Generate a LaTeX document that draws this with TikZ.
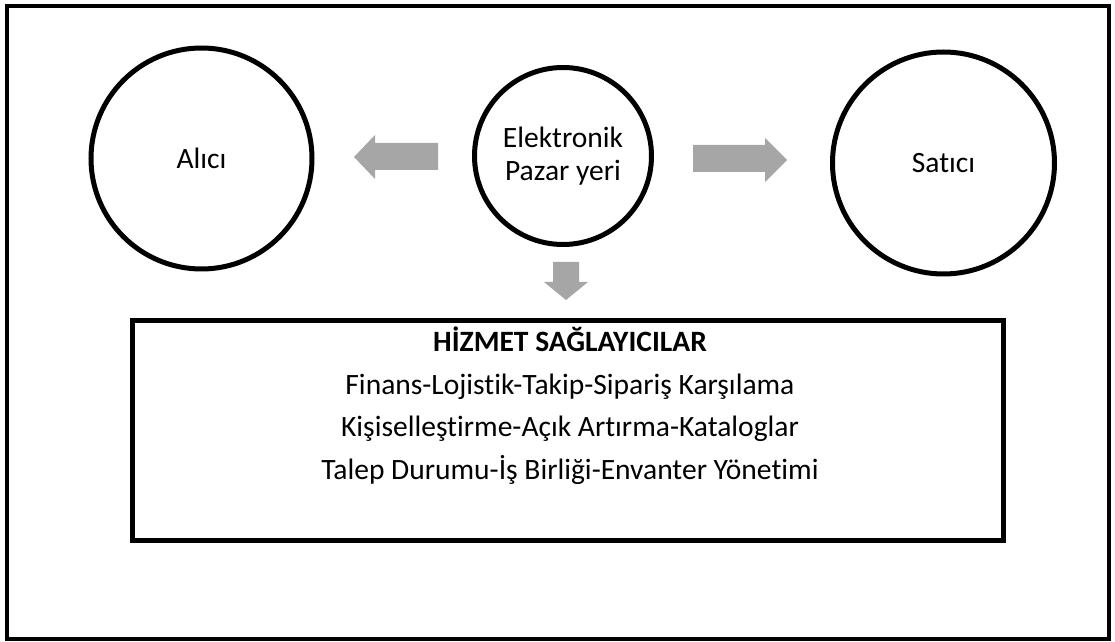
\documentclass[tikz,border=0pt]{standalone}
\usepackage{fontspec}
\setmainfont{Carlito}[Ligatures=NoCommon]
\definecolor{okgri}{HTML}{A6A6A6}
\tikzset{
	daire/.style={draw, circle, line width=0.1cm, inner sep=0pt, align=center, font=\fontsize{16.8}{18.7}\selectfont},
	satir/.style={anchor=base, inner sep=0pt, font=\fontsize{16.8}{19}\selectfont}
}

\begin{document}
\begin{tikzpicture}
			%%%%% START %%%%%
			
			\useasboundingbox (0, 0) rectangle (22.3, 12.84);
			\draw[line width=0.09cm] (0.14, 0.06) rectangle (22.18, 12.72);
			
			\node[daire, minimum size=4.42cm] (alici) at (4.03, 9.67) {Alıcı};
			\node[daire, minimum size=3.54cm] (pazar) at (11.26, 9.72) {Elektronik\\Pazar yeri};
			\node[daire, minimum size=4.44cm] (satici) at (18.87, 9.58) {Satıcı};
			
			\fill[okgri] (8.76, 9.98) -- (7.5, 9.98) -- (7.5, 10.14) -- (7.08, 9.7) -- (7.5, 9.26) -- (7.5, 9.44) -- (8.76, 9.44) -- cycle;
			\fill[okgri] (13.86, 9.94) -- (15.3, 9.94) -- (15.3, 10.08) -- (15.74, 9.64) -- (15.3, 9.2) -- (15.3, 9.4) -- (13.86, 9.4) -- cycle;
			\fill[okgri] (11.06, 7.6) -- (11.06, 7.2) -- (10.88, 7.2) -- (11.32, 6.84) -- (11.76, 7.2) -- (11.58, 7.2) -- (11.58, 7.6) -- cycle;
			
			\node[draw, rectangle, line width=0.1cm, inner sep=0pt, minimum width=17.42cm, minimum height=4.4cm] (saglayici) at (11.36, 4.23) {};
			\node[satir, font=\fontsize{16.8}{19}\selectfont\bfseries] (baslik) at (11.4, 5.8) {HİZMET SAĞLAYICILAR};
			\node[satir] (finans) at (11.4, 4.94) {Finans-Lojistik-Takip-Sipariş Karşılama};
			\node[satir] (katalog) at (11.4, 4.1) {Kişiselleştirme-Açık Artırma-Kataloglar};
			\node[satir] (envanter) at (11.4, 3.24) {Talep Durumu-İş Birliği-Envanter Yönetimi};
			
			%%%%% END %%%%%
\end{tikzpicture}
\end{document}
